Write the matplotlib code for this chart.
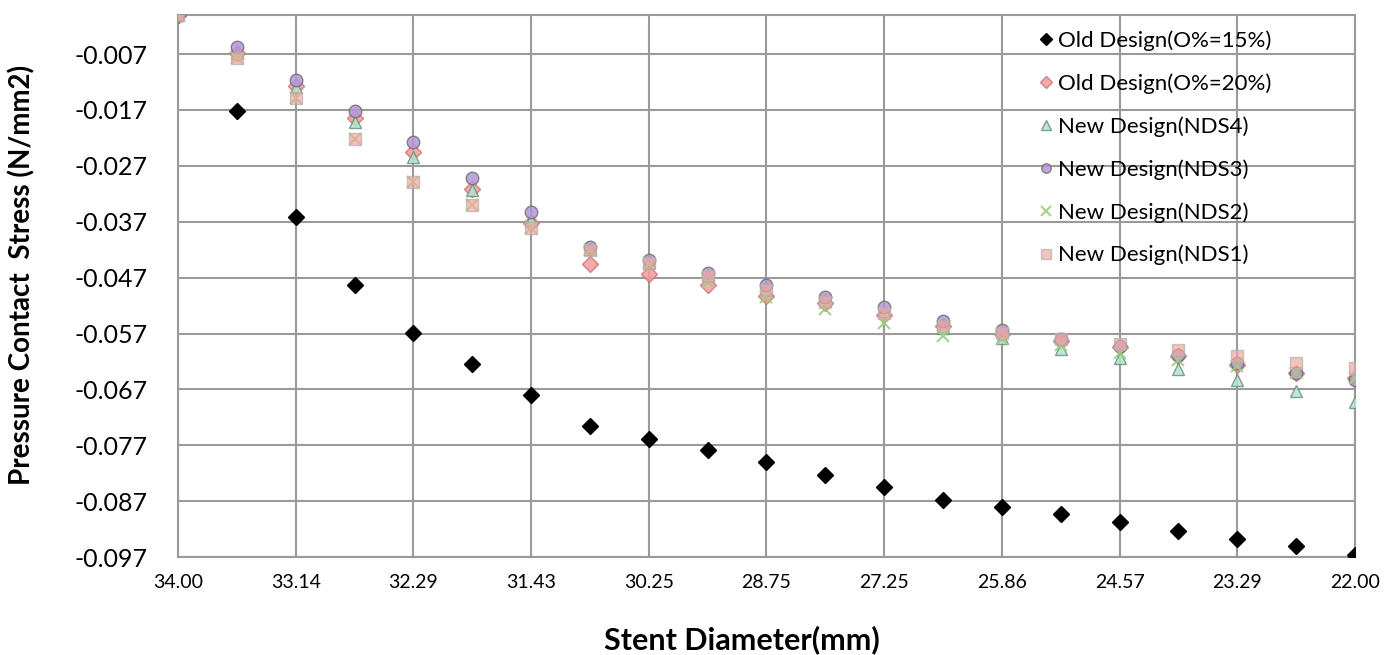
import numpy as np
import matplotlib.pyplot as plt

plt.rcParams['font.family'] = ['Lato', 'DejaVu Sans']

# stent diameter labels (every second category is labelled)
diameter_labels = ["34.00", "33.14", "32.29", "31.43", "30.25", "28.75",
                   "27.25", "25.86", "24.57", "23.29", "22.00"]

# pressure contact stress (N/mm2), 21 steps
old_15 = [0.0, -0.0172, -0.0362, -0.0483, -0.0569, -0.0625, -0.0680, -0.0736,
          -0.0759, -0.0779, -0.0800, -0.0823, -0.0845, -0.0868, -0.0881,
          -0.0893, -0.0908, -0.0924, -0.0938, -0.0950, -0.0967]
old_20 = [0.0, -0.0068, -0.0127, -0.0185, -0.0245, -0.0312, -0.0372, -0.0446,
          -0.0464, -0.0483, -0.0502, -0.0515, -0.0536, -0.0557, -0.0570,
          -0.0583, -0.0595, -0.0610, -0.0626, -0.0640, -0.0650]
nds4 = [0.0, -0.0068, -0.0129, -0.0191, -0.0254, -0.0313, -0.0367, -0.0418,
        -0.0442, -0.0466, -0.0490, -0.0510, -0.0530, -0.0560, -0.0578,
        -0.0598, -0.0614, -0.0634, -0.0653, -0.0673, -0.0692]
nds3 = [0.0, -0.0058, -0.0116, -0.0171, -0.0227, -0.0292, -0.0353, -0.0415,
        -0.0438, -0.0461, -0.0483, -0.0504, -0.0523, -0.0547, -0.0563,
        -0.0580, -0.0592, -0.0608, -0.0623, -0.0641, -0.0653]
nds2 = [0.0, -0.0077, -0.0149, -0.0222, -0.0298, -0.0340, -0.0382, -0.0421,
        -0.0446, -0.0477, -0.0504, -0.0527, -0.0551, -0.0575, -0.0580,
        -0.0590, -0.0605, -0.0617, -0.0629, -0.0640, -0.0650]
nds1 = [0.0, -0.0077, -0.0149, -0.0222, -0.0298, -0.0340, -0.0382, -0.0421,
        -0.0444, -0.0467, -0.0492, -0.0513, -0.0534, -0.0557, -0.0569,
        -0.0580, -0.0588, -0.0600, -0.0610, -0.0622, -0.0631]

x = np.arange(len(old_15))

fig = plt.figure(figsize=(13.94, 6.55), dpi=100)
ax = fig.add_axes([0.1277, 0.1496, 0.8443, 0.8275])

ax.plot(x, old_15, 'D', color='black', markersize=8, label='Old Design(O%=15%)', zorder=3)
ax.plot(x, old_20, 'D', color='#f59a9a', mec='#c87878', markersize=8, alpha=0.85,
        label='Old Design(O%=20%)', zorder=3)
ax.plot(x, nds4, '^', color='#b0e6cc', mec='#6f8f80', markersize=9, alpha=0.85,
        label='New Design(NDS4)', zorder=3)
ax.plot(x, nds3, 'o', color='#b596d8', mec='#707070', markersize=9, alpha=0.85,
        label='New Design(NDS3)', zorder=3)
ax.plot(x, nds2, 'x', color='#9ccf7e', markersize=9, mew=1.5, alpha=0.9,
        label='New Design(NDS2)', zorder=3)
ax.plot(x, nds1, 's', color='#f0a8a0', mec='#b0b0b0', markersize=9, alpha=0.7,
        label='New Design(NDS1)', zorder=3)

ax.set_xlim(0, 20)
ax.set_ylim(-0.097, 0.0)
ax.set_xticks(x[::2])
ax.set_xticklabels(diameter_labels)
ticks = np.arange(-0.097, -0.006, 0.01)
ax.set_yticks(ticks)
ax.set_yticklabels(['%.3f' % v for v in ticks])
ax.tick_params(axis='y', labelsize=18, length=0, pad=22)
ax.tick_params(axis='x', labelsize=14, length=0, pad=12)

ax.grid(True, color='#9a9a9a', linewidth=1.5)
ax.set_axisbelow(True)
for s in ax.spines.values():
    s.set_color('#9a9a9a')
    s.set_linewidth(1.5)

ax.set_xlabel('Stent Diameter(mm)', fontsize=22, fontweight='bold')
ax.set_ylabel('Pressure Contact  Stress (N/mm2)', fontsize=20, fontweight='bold')
ax.xaxis.set_label_coords(0.479, -0.125)
ax.yaxis.set_label_coords(-0.121, 0.52)

ax.legend(loc='upper left', bbox_to_anchor=(0.712, 1.008), frameon=False, fontsize=16,
          handletextpad=0.1, labelspacing=1.0, handlelength=0.9, markerscale=0.75)

plt.savefig('out.png', dpi=100)
